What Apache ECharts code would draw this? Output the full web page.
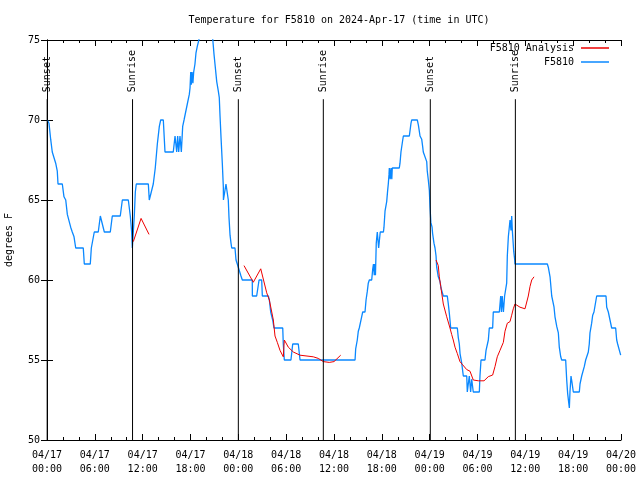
<!DOCTYPE html>
<html>
<head>
<meta charset="utf-8">
<script src="https://cdn.jsdelivr.net/npm/echarts@6/dist/echarts.min.js"></script>
<style>html,body{margin:0;padding:0;background:#fff;}#c{width:640px;height:480px;}</style>
</head>
<body>
<div id="c"></div>
<script>
// hours since 2024-04-17 00:00 UTC
const xTickLabels = ['04/17\n00:00','04/17\n06:00','04/17\n12:00','04/17\n18:00','04/18\n00:00','04/18\n06:00','04/18\n12:00','04/18\n18:00','04/19\n00:00','04/19\n06:00','04/19\n12:00','04/19\n18:00','04/20\n00:00'];

const stationObs = [
[0.04,70],[0.25,69.8],[0.46,68.8],[0.66,68],[0.88,68],[1.09,67.3],[1.29,66.8],[1.38,66],[1.92,66],
[2.13,65.2],[2.35,65],[2.55,64.1],[2.76,64],[2.97,63.3],[3.17,63],[3.39,62.7],[3.6,62],[4.55,62],
[4.68,61],[5.43,61],[5.56,62],[5.93,63],[6.43,63],[6.69,64],[6.94,64],[7.19,63],[7.94,63],[8.19,64],
[9.19,64],[9.45,65],[10.2,65],[10.45,64],[10.62,63],[10.7,62],[10.83,62],[10.95,64],[11.08,65.5],
[11.2,66],[12.71,66],[12.83,65],[13.08,65],[13.33,66],[13.58,67],[13.84,68.5],[14.09,69.6],[14.26,70],
[14.59,70],[14.8,68],[15.84,68],[16.06,69],[16.27,68],[16.39,69],[16.52,68],[16.68,69],[16.85,68],
[17.02,69.6],[17.19,70],[17.6,71],[17.85,71.6],[17.94,72],[18.03,73],[18.1,72.2],[18.2,73],[18.3,72.3],
[18.4,73],[18.44,72.9],[18.56,73.5],[18.69,74.2],[18.85,74.6],[19.05,75],[19.4,76],[20.4,76],[20.8,75],
[20.95,74.1],[21.07,73.5],[21.29,72.4],[21.49,71.8],[21.61,71.4],[21.7,70.3],[21.83,68.9],[21.99,67.3],
[22.12,65.8],[22.13,65],[22.33,65],[22.45,66],[22.66,66],[22.74,65],[22.83,63.9],[22.96,62.8],[23.08,62.3],
[23.17,62],[23.58,62],[23.71,61.25],[23.87,61],[24.3,60.3],[24.5,60],[25.75,60],[25.76,59],[26.3,59],
[26.6,60],[26.93,60],[27.01,59],[27.76,59],[27.89,58.75],[28.06,58],[28.31,57.5],[28.47,57],[29.57,57],
[29.64,56],[29.77,55],[30.6,55],[30.82,56],[31.52,56],[31.74,55],[38.64,55],[38.72,55.7],[38.92,56.25],
[39.05,56.8],[39.17,57],[39.47,57.7],[39.6,58],[39.89,58],[40.02,58.75],[40.18,59.3],[40.3,59.8],
[40.43,60],[40.73,60],[40.86,60.7],[40.95,61],[41.05,60.3],[41.12,61],[41.2,60.3],[41.3,62.3],[41.43,63],
[41.6,62],[41.8,63],[42.2,63],[42.27,63.3],[42.4,64.3],[42.61,64.9],[42.73,65.6],[42.81,66],[42.9,66.6],
[42.94,67],[43.05,66.3],[43.15,67],[43.25,66.3],[43.31,67],[44.19,67],[44.28,67.3],[44.4,68],[44.62,68.75],
[44.7,69],[45.45,69],[45.66,69.8],[45.75,70],[46.45,70],[46.58,69.7],[46.7,69.3],[46.79,69],[47.0,68.8],
[47.13,68.3],[47.2,68],[47.42,68],[47.63,67.4],[47.7,66.8],[47.83,66.25],[47.96,65.6],[48.04,64.6],
[48.15,63.6],[48.3,63.3],[48.37,62.9],[48.54,62.3],[48.67,62],[48.8,61.5],[48.88,60.8],[49.08,60.2],
[49.3,59.9],[49.42,59.5],[49.71,59],[50.21,59],[50.34,58.5],[50.47,57.9],[50.64,57],[51.47,57],[51.59,56.4],
[51.72,56],[51.81,55.4],[52.02,54.8],[52.22,54],[52.65,54],[52.72,53],[52.97,54],[53.14,53],[53.27,53.8],
[53.47,53],[54.23,53],[54.31,54],[54.44,55],[54.94,55],[55.07,55.6],[55.36,56.25],[55.48,57],[55.9,57],
[55.98,58],[56.74,58],[56.91,59],[57.0,58],[57.1,59],[57.25,58],[57.4,59],[57.45,59],[57.66,59.8],
[57.74,61.5],[57.87,62.7],[57.99,63.3],[58.08,63.75],[58.2,63.1],[58.29,64],[58.37,63.1],[58.45,62.5],
[58.54,61.8],[58.67,61.25],[58.7,61],[62.76,61],[62.88,60.8],[63.1,60.2],[63.31,59],[63.51,59],[63.6,58.3],
[63.72,57.7],[63.94,57.1],[64.14,56.7],[64.26,55.8],[64.44,55.2],[64.56,55],[65.06,55],[65.19,53.75],
[65.31,52.9],[65.52,52],[65.6,53],[65.73,54],[65.85,53.6],[66.02,53],[66.77,53],[66.86,53.5],[67.07,54],
[67.27,54],[67.4,54.6],[67.57,55],[67.77,55],[67.9,55.5],[68.02,56],[68.11,56.7],[68.32,57.3],[68.45,57.8],
[68.61,58],[68.83,58],[68.95,59],[70.12,59],[70.21,58.3],[70.41,58],[70.62,57.5],[70.83,57],[71.33,57],
[71.46,56.25],[71.58,56],[71.78,56],[71.96,55.3]
];

const analysisRun1 = [[10.83,62.4],[11.8,63.85],[12.8,62.85]];
const analysisRun2 = [[24.71,60.9],[24.96,60.9],[25.88,59.86],[26.81,60.7],[27.56,59.2],[27.89,58.75],[28.19,58.0],
[28.39,57.5],[28.6,56.5],[28.89,56.1],[29.23,55.6],[29.64,55.2],[29.77,56.25],[30.27,55.8],[30.9,55.5],
[31.74,55.3],[33.4,55.2],[34.03,55.1],[34.66,54.9],[35.41,54.85],[36.0,54.9],[36.84,55.3]];
const analysisRun3 = [[48.8,61.25],[49.08,60.9],[49.21,60.2],[49.39,59.6],[49.71,58.5],[50.14,57.7],[50.55,57],
[50.76,56.6],[50.96,56.25],[51.18,55.8],[51.47,55.4],[51.8,54.9],[52.14,54.7],[52.65,54.4],[53.06,54.3],
[53.47,53.75],[54.1,53.7],[54.82,53.7],[55.36,53.96],[55.9,54.06],[56.2,54.6],[56.48,55.2],[56.82,55.6],
[57.24,56.1],[57.45,56.8],[57.74,57.3],[58.08,57.4],[58.29,57.8],[58.49,58.2],[58.7,58.5],[58.92,58.5],
[59.33,58.3],[59.96,58.2],[60.37,59.0],[60.59,59.6],[60.8,60.0],[61.09,60.2]];

const sunTimes = [0.02, 10.73, 24.0, 34.66, 48.08, 58.75];
const sunLabels = ['Sunset','Sunrise','Sunset','Sunrise','Sunset','Sunrise'];

const FONT = 'DejaVu Sans Mono';
const BLUE = '#0a88ff';
const RED = '#ee0000';
const lineTop = 71.3;

const chart = echarts.init(document.getElementById('c'), null, {renderer:'canvas'});

const xCommon = {
  type:'value', min:0, max:72, interval:6,
  axisLine:{show:true, lineStyle:{color:'#000', width:1}},
  axisTick:{show:true, inside:true, length:6, lineStyle:{color:'#000'}},
  minorTick:{show:true, splitNumber:3, length:3, lineStyle:{color:'#000'}},
  splitLine:{show:false}
};
const yCommon = {
  type:'value', min:50, max:75, interval:5,
  axisLine:{show:true, lineStyle:{color:'#000', width:1}},
  axisTick:{show:true, inside:true, length:6, lineStyle:{color:'#000'}},
  splitLine:{show:false}
};

const analysisStyle = {type:'line', name:'F5810 Analysis', showSymbol:false, symbol:'none',
  lineStyle:{color:RED, width:1}, itemStyle:{color:RED}, z:3, animation:false};

chart.setOption({
  animation:false,
  backgroundColor:'#fff',
  title:{text:'Temperature for F5810 on 2024-Apr-17 (time in UTC)', left:334, top:10, textAlign:'center',
    textStyle:{fontFamily:FONT, fontSize:10, fontWeight:'normal', color:'#000'}},
  grid:{left:47, right:19, top:40, bottom:40, containLabel:false, outerBoundsMode:'none'},
  legend:[
    {data:['F5810 Analysis'], right:31, top:43, padding:0, align:'right', icon:'rect', itemWidth:28, itemHeight:1.5,
     textStyle:{fontFamily:FONT, fontSize:10, color:'#000', padding:[0,2,0,0]}},
    {data:['F5810'], right:31, top:57, padding:0, align:'right', icon:'rect', itemWidth:28, itemHeight:1.5,
     textStyle:{fontFamily:FONT, fontSize:10, color:'#000', padding:[0,2,0,0]}}
  ],
  xAxis:[
    Object.assign({}, xCommon, {position:'bottom',
      axisLabel:{show:true, margin:8, fontFamily:FONT, fontSize:10, color:'#000', lineHeight:14,
        formatter:v => xTickLabels[Math.round(v/6)]}}),
    Object.assign({}, xCommon, {position:'top', axisLabel:{show:false}})
  ],
  yAxis:[
    Object.assign({}, yCommon, {position:'left', name:'degrees F', nameLocation:'middle', nameRotate:90, nameGap:33,
      nameTextStyle:{fontFamily:FONT, fontSize:10, color:'#000'},
      axisLabel:{show:true, margin:7, fontFamily:FONT, fontSize:10, color:'#000'}}),
    Object.assign({}, yCommon, {position:'right', axisLabel:{show:false}})
  ],
  series:[
    {type:'line', name:'F5810', data:stationObs, showSymbol:false, symbol:'none', clip:true,
     lineStyle:{color:BLUE, width:1.3}, itemStyle:{color:BLUE}, z:2},
    Object.assign({}, analysisStyle, {data:analysisRun1}),
    Object.assign({}, analysisStyle, {data:analysisRun2}),
    Object.assign({}, analysisStyle, {data:analysisRun3}),
    {type:'custom', name:'sun', z:5, silent:true,
     data:sunTimes.map(t => [t]),
     encode:{x:0},
     renderItem:function(params, api){
       const h = api.value(0);
       const p0 = api.coord([h, 50]);
       const p1 = api.coord([h, lineTop]);
       return {type:'group', children:[
         {type:'line', shape:{x1:p0[0], y1:p0[1], x2:p1[0], y2:p1[1]}, style:{stroke:'#000', lineWidth:1}},
         {type:'text', x:p1[0], y:p1[1]-7, rotation:Math.PI/2,
          style:{text:sunLabels[params.dataIndex], align:'left', verticalAlign:'middle',
                 font:'10px "DejaVu Sans Mono"', fill:'#000'}}
       ]};
     }}
  ]
});
</script>
</body>
</html>
